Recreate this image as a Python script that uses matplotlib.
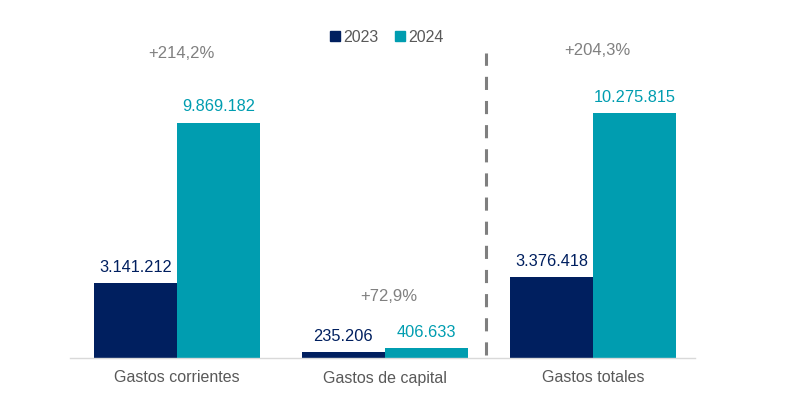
import numpy as np
import matplotlib.pyplot as plt
from matplotlib.patches import Patch

plt.rcParams['font.family'] = ['Liberation Sans', 'DejaVu Sans']

categories = ["Gastos corrientes", "Gastos de capital", "Gastos totales"]
years = ["2023", "2024"]
values_2023 = [3141212, 235206, 3376418]
values_2024 = [9869182, 406633, 10275815]
pct_labels = ["+214,2%", "+72,9%", "+204,3%"]
pct_heights = [12.79e6, 2.56e6, 12.88e6]

navy = "#001F5F"
teal = "#009DB0"
gray = "#808080"


def fmt(v):
    return f"{v:,}".replace(",", ".")


fig = plt.figure(figsize=(7.9, 4.12), dpi=100)
ax = fig.add_axes([70 / 790, 54 / 412, 625 / 790, 358 / 412])

x = np.arange(len(categories))
w = 0.4
b1 = ax.bar(x - w / 2, values_2023, w, color=navy)
b2 = ax.bar(x + w / 2, values_2024, w, color=teal)

for bars, vals, col in [(b1, values_2023, navy), (b2, values_2024, teal)]:
    for r, v in zip(bars, vals):
        ax.annotate(fmt(v), (r.get_x() + r.get_width() / 2, r.get_height()),
                    xytext=(0, 11.5), textcoords="offset points",
                    ha="center", va="center", fontsize=11.8, color=col)

for i, (lab, h) in enumerate(zip(pct_labels, pct_heights)):
    ax.text(i + 0.02, h, lab, ha="center", va="center", fontsize=12, color=gray)

# separator between partial and total
ax.vlines(1.486, 0.13e6, 12.79e6, colors="#7F7F7F", linewidth=2.2,
          linestyles=(0, (4.3, 3.6)))

ax.set_xlim(-0.514, 2.49)
ax.set_ylim(0, 15.015e6)
ax.set_xticks(x)
ax.set_xticklabels(categories, fontsize=11.5, color="#595959")
ax.tick_params(axis="x", length=0, pad=9)
ax.set_yticks([])
for s in ["top", "right", "left"]:
    ax.spines[s].set_visible(False)
ax.spines["bottom"].set_color("#D9D9D9")
ax.spines["bottom"].set_linewidth(1)

handles = [Patch(color=navy, label=years[0]), Patch(color=teal, label=years[1])]
fig.legend(handles=handles, loc="center", bbox_to_anchor=(387 / 790, 1 - 37 / 412),
           ncol=2, frameon=False, fontsize=11.5, handlelength=0.6, handleheight=0.6,
           handletextpad=0.25, columnspacing=1.0, labelcolor="#595959")

fig.savefig("out.png", dpi=100)
